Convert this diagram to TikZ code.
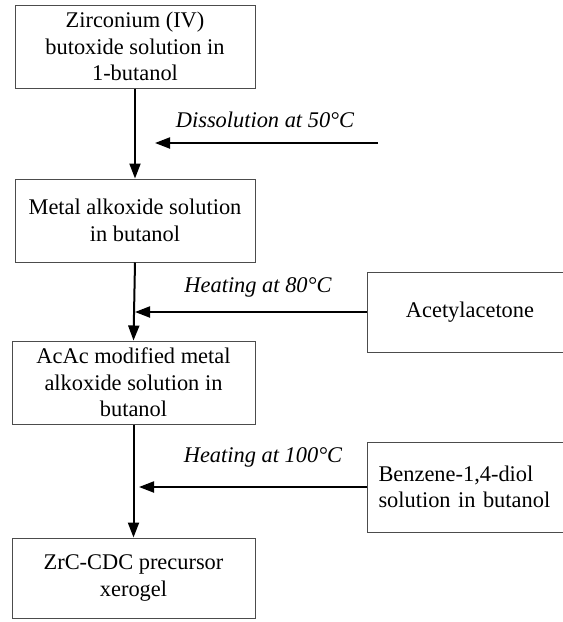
\documentclass[tikz,border=0pt]{standalone}
\usepackage{fontspec}
\setmainfont{Liberation Serif}
\usetikzlibrary{arrows.meta}
\begin{document}
\begin{tikzpicture}[x=1pt,y=-1pt,
 box/.style={draw=black!70, line width=1pt, align=center, inner sep=0pt, font=\fontsize{22.4}{26.5}\selectfont},
 lab/.style={font=\fontsize{22.4}{26.5}\selectfont\itshape, inner sep=0pt},
 arr/.style={line width=2pt, -{Triangle[length=15pt,width=11pt]}}]
\useasboundingbox (0,0) rectangle (563,622);
\node[box, minimum width=240pt, minimum height=83pt] (b1) at (135,46.5) {Zirconium (IV)\\butoxide solution in\\1-butanol};
\node[box, minimum width=240pt, minimum height=83pt] (b2) at (135,220.5) {Metal alkoxide solution\\in butanol};
\node[box, minimum width=243pt, minimum height=83pt] (b3) at (133.5,382.5) {AcAc modified metal\\alkoxide solution in\\butanol};
\node[box, minimum width=243pt, minimum height=80pt] (b4) at (133.5,578) {ZrC-CDC precursor\\xerogel};
\node[box, minimum width=206pt, minimum height=80pt] (acac) at (470,312) {Acetylacetone};
\node[box, align=left, text width=184pt, inner xsep=11pt, minimum height=90pt, anchor=west] (benz) at (367,487) {Benzene-1,4-diol\\solution in butanol};
\node[lab] (l1) at (265,120) {Dissolution at 50°C};
\node[lab] (l2) at (258,287) {Heating at 80°C};
\node[lab] (l3) at (263,457) {Heating at 100°C};
\coordinate (d1s) at (378,143);
\coordinate (d1e) at (155,143);
\coordinate (h3e) at (139,487);
\draw[arr] (b1.south) -- (b2.north);
\draw[arr] (d1s) -- (d1e);
\draw[arr] (b2.south) -- (b3.north);
\draw[arr] (acac.west) -- (acac.west -| b2.south);
\draw[arr] (b3.south) -- (b4.north);
\draw[arr] (benz.west) -- (h3e);
\end{tikzpicture}
\end{document}
